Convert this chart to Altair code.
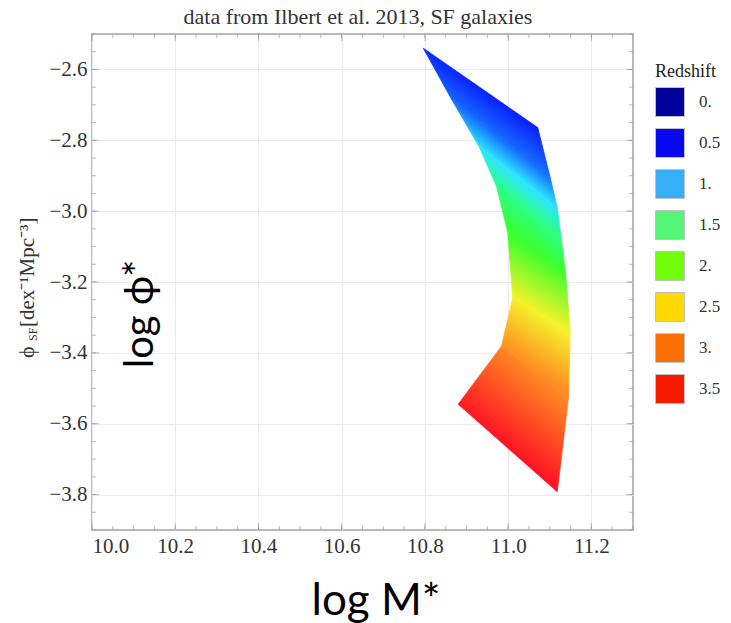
import altair as alt
import pandas as pd

# ---------------- data ----------------
z_bins = [0.35, 0.65, 0.95, 1.3, 1.75, 2.25, 2.75, 3.5]
left_m = [10.796, 10.862, 10.931, 10.972, 10.999, 11.011, 10.984, 10.880]
left_phi = [-2.540, -2.680, -2.820, -2.930, -3.060, -3.246, -3.381, -3.545]
right_m = [11.071, 11.100, 11.118, 11.128, 11.138, 11.149, 11.145, 11.118]
right_phi = [-2.764, -2.900, -2.990, -3.080, -3.175, -3.340, -3.526, -3.792]
band_colors = ["#0b22ff", "#1468ff", "#2de4ff", "#2cff80", "#3cff2c",
               "#f5f22a", "#ff8a22", "#ff1424"]

legend_labels = ["0.", "0.5", "1.", "1.5", "2.", "2.5", "3.", "3.5"]
legend_colors = ["#00009a", "#0808ee", "#36aef8", "#55f577", "#72ff0c",
                 "#ffd800", "#fb7005", "#f51a00"]

x_major = [10.0, 10.2, 10.4, 10.6, 10.8, 11.0, 11.2]
y_major = [-3.8, -3.6, -3.4, -3.2, -3.0, -2.8, -2.6]
x_minor = [round(10.0 + 0.05 * k, 2) for k in range(27)]
y_minor = [round(-3.9 + 0.05 * k, 2) for k in range(29)]

# ---------------- layout ----------------
W, H = 541, 496
X0, X1 = 10.0, 11.3
Y0, Y1 = -3.9, -2.5


def px(m):
    return (m - X0) / (X1 - X0) * W


def py(p):
    return (Y1 - p) / (Y1 - Y0) * H


xscale = alt.Scale(domain=[X0, X1], nice=False, zero=False)
yscale = alt.Scale(domain=[Y0, Y1], nice=False, zero=False)
xaxis = alt.Axis(values=x_major, format=".1f", grid=True, gridColor="#ebebeb",
                 ticks=False, domain=False, labelFont="Liberation Serif",
                 labelFontSize=21, labelColor="#333333", labelPadding=5,
                 title=None)
yaxis = alt.Axis(values=y_major, format=".1f", grid=True, gridColor="#ebebeb",
                 ticks=False, domain=False, labelFont="Liberation Serif",
                 labelFontSize=21, labelColor="#333333", labelPadding=5,
                 title=None)
X = alt.X("m:Q", scale=xscale, axis=xaxis)
Y = alt.Y("phi:Q", scale=yscale, axis=yaxis)

# ---------------- gradient quads ----------------
rows = []
for i in range(len(z_bins) - 1):
    verts = [(left_m[i], left_phi[i]), (right_m[i], right_phi[i]),
             (right_m[i + 1], right_phi[i + 1]), (left_m[i + 1], left_phi[i + 1]),
             (left_m[i], left_phi[i])]
    for k, (m, p) in enumerate(verts):
        rows.append({"quad": i, "k": k, "m": m, "phi": p})
quads = pd.DataFrame(rows)

layers = []
for i in range(len(z_bins) - 1):
    P = [(px(left_m[i]), py(left_phi[i])), (px(right_m[i]), py(right_phi[i])),
         (px(right_m[i + 1]), py(right_phi[i + 1])), (px(left_m[i + 1]), py(left_phi[i + 1]))]
    xs = [p[0] for p in P]
    ys = [p[1] for p in P]
    xmin, xmax, ymin, ymax = min(xs), max(xs), min(ys), max(ys)
    bw, bh = xmax - xmin, ymax - ymin

    def nrm(p):
        return ((p[0] - xmin) / bw, (p[1] - ymin) / bh)

    A, B, D, C = nrm(P[0]), nrm(P[1]), nrm(P[2]), nrm(P[3])

    def unit(v):
        l = (v[0] ** 2 + v[1] ** 2) ** 0.5
        return (v[0] / l, v[1] / l)

    d1 = unit((B[0] - A[0], B[1] - A[1]))
    d2 = unit((D[0] - C[0], D[1] - C[1]))
    d = ((d1[0] + d2[0]) / 2, (d1[1] + d2[1]) / 2)
    n = (-d[1], d[0])
    M1 = ((A[0] + B[0]) / 2, (A[1] + B[1]) / 2)
    M2 = ((C[0] + D[0]) / 2, (C[1] + D[1]) / 2)
    t = ((M2[0] - M1[0]) * n[0] + (M2[1] - M1[1]) * n[1]) / (n[0] ** 2 + n[1] ** 2)
    p2 = (M1[0] + t * n[0], M1[1] + t * n[1])
    grad = alt.Gradient(
        gradient="linear",
        stops=[alt.GradientStop(color=band_colors[i], offset=0),
               alt.GradientStop(color=band_colors[i + 1], offset=1)],
        x1=M1[0], y1=M1[1], x2=p2[0], y2=p2[1])
    layer = alt.Chart(quads).transform_filter(f"datum.quad == {i}").mark_line(
        filled=True, fill=grad, stroke=grad, strokeWidth=0.8, strokeJoin="round"
    ).encode(x=X, y=Y, order="k:Q")
    layers.append(layer)

# ---------------- inside frame ticks ----------------
xmaj_df = pd.DataFrame({"m": x_major})
xmin_df = pd.DataFrame({"m": x_minor})
ymaj_df = pd.DataFrame({"phi": y_major})
ymin_df = pd.DataFrame({"phi": y_minor})
tick_color = "#9a9a9a"
for df, L in [(xmaj_df, 7), (xmin_df, 4)]:
    for yy in [H - L / 2, L / 2]:
        layers.append(alt.Chart(df).mark_tick(orient="vertical", size=L, thickness=1,
                                              color=tick_color)
                      .encode(x=X, y=alt.value(yy)))
for df, L in [(ymaj_df, 7), (ymin_df, 4)]:
    for xx in [L / 2, W - L / 2]:
        layers.append(alt.Chart(df).mark_tick(orient="horizontal", size=L, thickness=1,
                                              color=tick_color)
                      .encode(y=Y, x=alt.value(xx)))

# ---------------- legend ----------------
leg_df = pd.DataFrame({"z": legend_labels})
legend_layer = alt.Chart(leg_df).transform_filter("false").mark_square().encode(
    fill=alt.Fill("z:N", scale=alt.Scale(domain=legend_labels, range=legend_colors),
                  legend=alt.Legend(title="Redshift", orient="none", legendX=563,
                                    legendY=29, titleFont="Liberation Serif",
                                    titleFontSize=18, titleFontWeight="normal",
                                    titleColor="#222222", titlePadding=6,
                                    labelFont="Liberation Serif", labelFontSize=17,
                                    labelColor="#333333", symbolType="square",
                                    symbolSize=841, symbolStrokeColor="#c0c0c0",
                                    symbolStrokeWidth=1, rowPadding=7,
                                    labelOffset=14, padding=0, symbolOpacity=1)))
layers.append(legend_layer)


# ---------------- texts ----------------
def text_layer(txt, x, y, **kw):
    return alt.Chart(pd.DataFrame({"t": [txt]})).mark_text(**kw).encode(
        text="t:N", x=alt.value(x), y=alt.value(y))


layers.append(text_layer("data from Ilbert et al. 2013, SF galaxies", 266, -10,
                         font="Liberation Serif", fontSize=22, color="#333333",
                         align="center", baseline="alphabetic"))
layers.append(text_layer("log M*", 284, 581, font="Lato, DejaVu Sans", fontSize=44,
                         color="#000000", align="center", baseline="alphabetic"))
layers.append(text_layer("log \u03d5*", 61, 280, font="Lato, DejaVu Sans", fontSize=40,
                         color="#000000", align="center", baseline="alphabetic",
                         angle=270))
# y axis title: phi, subscript SF, unit
layers.append(text_layer("\u03d5", 34 - 92, 358 - 34, font="Liberation Serif, DejaVu Serif",
                         fontSize=22, color="#333333", align="left",
                         baseline="alphabetic", angle=270))
layers.append(text_layer("SF", 37 - 92, 341 - 34, font="Liberation Serif", fontSize=12,
                         color="#333333", align="left", baseline="alphabetic",
                         angle=270))
layers.append(text_layer("[dex\u207b\u00b9Mpc\u207b\u00b3]", 34 - 92, 327 - 34,
                         font="Liberation Serif", fontSize=21, color="#333333",
                         align="left", baseline="alphabetic", angle=270))

chart = alt.layer(*layers).properties(
    width=W, height=H,
    padding={"left": 92, "top": 34, "right": 98, "bottom": 93},
    autosize=alt.AutoSizeParams(type="none"),
).configure_view(stroke="#a3a3a3", strokeWidth=1.5)

chart.save("out.html", embed_options={"renderer": "svg", "actions": False})
